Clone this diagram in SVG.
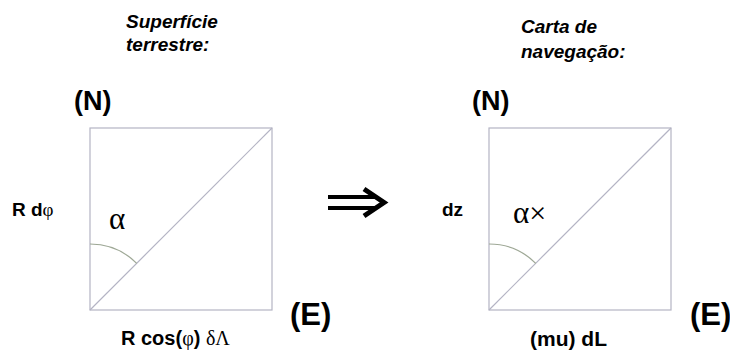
<svg xmlns="http://www.w3.org/2000/svg" width="730" height="352" viewBox="0 0 730 352">
<style>
.t{font-family:"Liberation Sans",Arial,sans-serif;font-weight:bold;fill:#000}
.ti{font-family:"Liberation Sans",Arial,sans-serif;font-weight:bold;font-style:italic;font-size:19px;fill:#000}
.g{font-family:"Liberation Serif","Times New Roman",serif;fill:#000}
.box{fill:none;stroke:#b4b4c4;stroke-width:1.2}
.arc{fill:none;stroke:#9ea896;stroke-width:1.2}
</style>
<rect width="730" height="352" fill="#fff"/>
<g id="left">
<text class="ti" x="126" y="28">Superfície</text>
<text class="ti" x="126" y="51">terrestre:</text>
<text class="t" x="74" y="110" font-size="27">(N)</text>
<rect class="box" x="90" y="128" width="182" height="182"/>
<line class="box" x1="90" y1="310" x2="272" y2="128"/>
<path class="arc" d="M90,244 A66,66 0 0 1 136.7,263.3"/>
<text class="t" x="12" y="216" font-size="19">R d<tspan class="g" font-weight="normal">φ</tspan></text>
<text class="g" x="109" y="229" font-size="31">α</text>
<text class="t" x="290" y="325" font-size="31">(E)</text>
<text class="t" x="121" y="345" font-size="20">R cos(<tspan class="g" font-weight="normal">φ</tspan>) <tspan class="g" font-weight="normal">δΛ</tspan></text>
</g>
<g id="arrow">
<path d="M328,197 H376 M328,208 H376" stroke="#000" stroke-width="4" fill="none"/>
<path d="M364,189 L384,202.5 L364,216" stroke="#000" stroke-width="5" fill="none" stroke-linejoin="miter"/>
</g>
<g id="right">
<text class="ti" x="521" y="33">Carta de</text>
<text class="ti" x="521" y="58">navegação:</text>
<text class="t" x="472" y="110" font-size="27">(N)</text>
<rect class="box" x="489" y="128" width="182" height="182"/>
<line class="box" x1="489" y1="310" x2="671" y2="128"/>
<path class="arc" d="M489,244 A66,66 0 0 1 535.7,263.3"/>
<text class="t" x="442" y="216" font-size="19">dz</text>
<text class="g" x="513" y="223" font-size="31">α<tspan font-size="30">×</tspan></text>
<text class="t" x="690" y="325" font-size="31">(E)</text>
<text class="t" x="530" y="346" font-size="21">(mu) dL</text>
</g>
</svg>
